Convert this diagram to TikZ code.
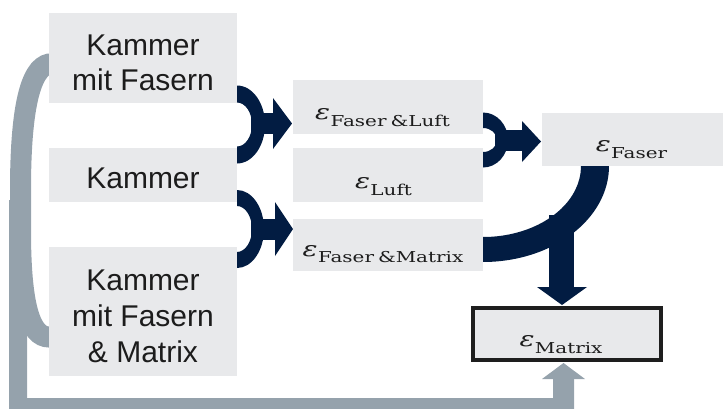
\documentclass[tikz,border=0pt]{standalone}
\usepackage{graphicx}
\usepackage{fontspec}
\setmainfont{Liberation Sans}
\newfontfamily\subfnt{DejaVu Serif}
\usetikzlibrary{calc}
\definecolor{boxgray}{RGB}{232,233,235}
\definecolor{navy}{RGB}{2,28,66}
\definecolor{ret}{RGB}{149,162,172}
\definecolor{txt}{RGB}{28,28,28}
\definecolor{framec}{RGB}{30,30,30}
\newcommand\epsl[1]{\scalebox{1.33}[1]{{\subfnt\itshape\fontsize{21}{21}\selectfont ε}\kern0.3pt\raisebox{-6.5pt}{\subfnt\fontsize{15}{15}\selectfont #1}}}
\tikzset{
  box/.style={fill=boxgray, draw=none, inner sep=0pt, outer sep=0pt},
  lbl/.style={text=txt, inner sep=0pt, anchor=base, font=\fontsize{30}{30}\selectfont},
  eps/.style={text=txt, inner sep=0pt, anchor=base},
  flow/.style={fill=navy, draw=none},
  back/.style={fill=ret, draw=none},
}
\begin{document}
\begin{tikzpicture}[x=1pt,y=1pt,yscale=-1]
\useasboundingbox (0,0) rectangle (723,408);
\clip (0,0) rectangle (723,408);
% return path (grey)
\draw[ret, line width=21pt] (56,64) -- (49,64) .. controls (30,68) and (20.5,110) .. (20.5,190) -- (20.5,230) .. controls (20.5,305) and (30,337) .. (49,337) -- (56,337);
\fill[back] (9,200) -- (9,420) -- (574,420) -- (574,378) -- (553,378) -- (553,398) -- (27,398) -- (27,200) -- cycle;
\fill[back] (542,379) -- (563.5,363) -- (585,379) -- cycle;
% bracket A
\coordinate (cA) at (237,124.5);
\fill[flow] ($(cA)+(0,-39)$) arc[start angle=-90,end angle=90,x radius=28pt,y radius=39pt] -- ($(cA)+(0,22)$) arc[start angle=90,end angle=-90,x radius=15pt,y radius=22pt] -- cycle;
\fill[flow] ($(cA)+(14,-12)$) rectangle ($(cA)+(37,9)$);
\fill[flow] (273,98) -- (292,123.5) -- (273,149) -- cycle;
% bracket B
\coordinate (cB) at (237,229);
\fill[flow] ($(cB)+(0,-39)$) arc[start angle=-90,end angle=90,x radius=27pt,y radius=39pt] -- ($(cB)+(0,23)$) arc[start angle=90,end angle=-90,x radius=15pt,y radius=23pt] -- cycle;
\fill[flow] ($(cB)+(14,-10.5)$) rectangle ($(cB)+(39,10.5)$);
\fill[flow] (275,202) -- (293,229) -- (275,256) -- cycle;
% bracket C
\coordinate (cC) at (483,140);
\fill[flow] ($(cC)+(0,-27.5)$) arc[start angle=-90,end angle=90,x radius=25pt,y radius=27.5pt] -- ($(cC)+(0,12)$) arc[start angle=90,end angle=-90,x radius=14pt,y radius=12pt] -- cycle;
\fill[flow] ($(cC)+(12,-10)$) rectangle ($(cC)+(40,11)$);
\fill[flow] (522,121) -- (541,141.5) -- (522,162) -- cycle;
% big arc and down arrow
\coordinate (cD) at (483,166);
\fill[flow] ($(cD)+(-3:126pt and 96pt)$) arc[start angle=-3,end angle=93,x radius=126pt,y radius=96pt] -- ($(cD)+(93:98pt and 71pt)$) arc[start angle=93,end angle=-3,x radius=98pt,y radius=71pt] -- cycle;
\fill[flow] (549,215) rectangle (574,288);
\fill[flow] (537,287) -- (562,305) -- (587,287) -- cycle;
% boxes
\node[box, minimum width=188pt, minimum height=90pt] (B1) at (143,58) {};
\node[box, minimum width=188pt, minimum height=54pt] (B2) at (143,175) {};
\node[box, minimum width=188pt, minimum height=129pt] (B3) at (143,311.5) {};
\node[box, minimum width=190pt, minimum height=54pt] (M1) at (388,107) {};
\node[box, minimum width=190pt, minimum height=54pt] (M2) at (388,175) {};
\node[box, minimum width=190pt, minimum height=52pt] (M3) at (388,245) {};
\node[box, minimum width=190pt, minimum height=53pt] (F) at (637,139.5) {};
\node[box, draw=framec, line width=4pt, minimum width=188pt, minimum height=52pt] (MX) at (567,334) {};
% texts
\node[lbl] (t1a) at (143,55) {Kammer};
\node[lbl] (t1b) at (143,90.5) {mit Fasern};
\node[lbl] (t2) at (143,188) {Kammer};
\node[lbl] (t3a) at (143,290) {Kammer};
\node[lbl] (t3b) at (143,326) {mit Fasern};
\node[lbl] (t3c) at (143,362) {\& Matrix};
\node[eps] (e1) at (382.5,119.5) {\epsl{Faser\kern3pt\&Luft}};
\node[eps] (e2) at (383.5,188.5) {\epsl{Luft}};
\node[eps] (e3) at (383,256) {\epsl{Faser\kern3pt\&Matrix}};
\node[eps] (e4) at (631.5,151.5) {\epsl{Faser}};
\node[eps] (e5) at (561,346.5) {\epsl{Matrix}};
\end{tikzpicture}
\end{document}
